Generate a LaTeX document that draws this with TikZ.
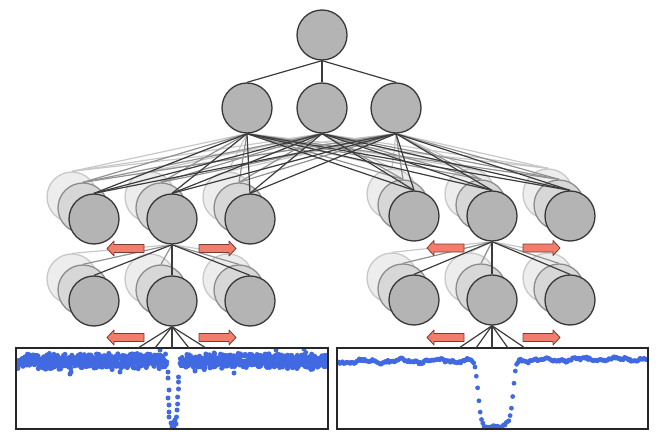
\documentclass[tikz,border=0pt]{standalone}
\definecolor{nfill}{RGB}{180,180,180}
\definecolor{ndraw}{RGB}{55,55,55}
\definecolor{mfill}{RGB}{215,215,215}
\definecolor{mdraw}{RGB}{140,140,140}
\definecolor{lfill}{RGB}{237,237,237}
\definecolor{ldraw}{RGB}{200,200,200}
\definecolor{dwire}{RGB}{60,60,60}
\definecolor{mwire}{RGB}{145,145,145}
\definecolor{lwire}{RGB}{200,200,200}
\definecolor{arrfill}{RGB}{242,125,108}
\definecolor{arrdraw}{RGB}{120,60,50}
\definecolor{dotblue}{RGB}{65,105,225}
\tikzset{
  neuron/.style={circle, minimum size=50pt, inner sep=0pt, fill=nfill, draw=ndraw, line width=1.3pt},
  midn/.style={neuron, fill=mfill, draw=mdraw},
  lightn/.style={neuron, fill=lfill, draw=ldraw},
  darkwire/.style={draw=dwire, line width=1.2pt},
  midwire/.style={draw=mwire, line width=1.2pt},
  lightwire/.style={draw=lwire, line width=1.2pt},
  redarrow/.style={fill=arrfill, draw=arrdraw, line width=0.8pt, line join=round},
  panel/.style={rectangle, draw=black!85, line width=1.3pt, inner sep=0pt},
  dotc/.style={fill=dotblue},
  pics/larr/.style={code={\draw[redarrow] (0,0) -- (7,-7.5) -- (7,-4) -- (37,-4) -- (37,4) -- (7,4) -- (7,7.5) -- cycle;}},
  pics/rarr/.style={code={\draw[redarrow] (0,0) -- (-7,-7.5) -- (-7,-4) -- (-37,-4) -- (-37,4) -- (-7,4) -- (-7,7.5) -- cycle;}}
}
\newcommand\nstack[3]{%
  \node[lightn] (#1c) at ({#2-22},{#3-22}) {};
  \node[midn] (#1b) at ({#2-11},{#3-11}) {};
  \node[neuron] (#1a) at (#2,#3) {};}
\begin{document}
\begin{tikzpicture}[x=1pt,y=-1pt]
\useasboundingbox (0,0) rectangle (663,446);
% top and hidden layer
\node[neuron] (t) at (322,35) {};
\node[neuron] (h1) at (247,108) {};
\node[neuron] (h2) at (322,108) {};
\node[neuron] (h3) at (396,108) {};
\draw[darkwire] (t.south) -- (h1.north);
\draw[darkwire] (t.south) -- (h2.north);
\draw[darkwire] (t.south) -- (h3.north);
% row 3
\nstack{A1}{94}{219}
\nstack{A2}{172}{219}
\nstack{A3}{250}{219}
\nstack{B1}{414}{216}
\nstack{B2}{492}{216}
\nstack{B3}{570}{216}
% row 4
\nstack{C1}{94}{301}
\nstack{C2}{172}{301}
\nstack{C3}{250}{301}
\nstack{D1}{414}{300}
\nstack{D2}{492}{300}
\nstack{D3}{570}{300}
% wires hidden -> row 3
\foreach \src in {h1,h2,h3}{
  \foreach \col in {A1,A2,A3,B1,B2,B3}{
    \draw[lightwire] (\src.south) -- (\col c.north);
  }}
\foreach \src in {h1,h2,h3}{
  \foreach \col in {A1,A2,A3,B1,B2,B3}{
    \draw[midwire] (\src.south) -- (\col b.north);
  }}
\foreach \src in {h1,h2,h3}{
  \foreach \col in {A1,A2,A3,B1,B2,B3}{
    \draw[darkwire] (\src.south) -- (\col a.north);
  }}
% wires row 3 -> row 4
\foreach \col in {C1,C2,C3}{\draw[lightwire] (A2a.south) -- (\col c.north);}
\foreach \col in {C1,C2,C3}{\draw[midwire] (A2a.south) -- (\col b.north);}
\foreach \col in {C1,C2,C3}{\draw[darkwire] (A2a.south) -- (\col a.north);}
\foreach \col in {D1,D2,D3}{\draw[lightwire] (B2a.south) -- (\col c.north);}
\foreach \col in {D1,D2,D3}{\draw[midwire] (B2a.south) -- (\col b.north);}
\foreach \col in {D1,D2,D3}{\draw[darkwire] (B2a.south) -- (\col a.north);}
% light curves
\pgfmathsetseed{7}
\begin{scope}
\clip (16,348) rectangle (328,429);
\foreach \xx in {17,17.3,...,167}{
  \pgfmathsetmacro\yy{361+5.5*rand+3.5*rand}
  \fill[dotc] (\xx,\yy) circle[radius=2.5];}
\foreach \xx in {180,180.3,...,328}{
  \pgfmathsetmacro\yy{361+5.5*rand+3.5*rand}
  \fill[dotc] (\xx,\yy) circle[radius=2.5];}
\foreach \xx/\yy in {168/372,168/378,169/390,168/398,169/405,169/412,169/417,171/423,172/427,
  181/363,178.5/377,178.5/382,178.5/389,177.6/397,177.6/404,177/410,176.5/417,175/420,174/422,173.5/425,176/424,174/428,
  70/374,71/372,195/371,234/373,304/349,120/372,276/350,160/350}{
  \fill[dotc] (\xx,\yy) circle[radius=2.5];}
\end{scope}
\begin{scope}
\clip (337,348) rectangle (648,429);
\foreach \xx in {338.5,339.8,...,648}{
  \pgfmathsetmacro\uu{\xx-338}
  \pgfmathsetmacro\zz{max(min((abs(\xx-495.5)-17.5)/1.5,9),-9)}
  \pgfmathsetmacro\ff{1/(1+exp(\zz))}
  \pgfmathsetmacro\yy{361.5-2.5*\uu/310+1.4*sin(10*\uu)+0.8*sin(27*\uu+30)+66*\ff+1.1*rand}
  \fill[dotc] (\xx,\yy) circle[radius=2.4];}
\end{scope}
\node[panel, minimum width=312pt, minimum height=81pt] (pL) at (172,388.5) {};
\node[panel, minimum width=311pt, minimum height=81pt] (pR) at (492.5,388.5) {};
% wires row 4 -> input
\coordinate (pL1) at (138,348);
\coordinate (pL2) at (155,348);
\coordinate (pL3) at (172,348);
\coordinate (pL4) at (189,348);
\coordinate (pL5) at (206,348);
\coordinate (pR1) at (459,348);
\coordinate (pR2) at (476,348);
\coordinate (pR3) at (492,348);
\coordinate (pR4) at (508,348);
\coordinate (pR5) at (525,348);
\foreach \k in {1,...,5}{\draw[darkwire] (C2a.south) -- (pL\k);}
\foreach \k in {1,...,5}{\draw[darkwire] (D2a.south) -- (pR\k);}
% arrows
\pic at (107,248.5) {larr};
\pic at (236,248.5) {rarr};
\pic at (107,337.5) {larr};
\pic at (236,337.5) {rarr};
\pic at (427,248) {larr};
\pic at (560,248) {rarr};
\pic at (427,337.5) {larr};
\pic at (560,337.5) {rarr};
\end{tikzpicture}
\end{document}
